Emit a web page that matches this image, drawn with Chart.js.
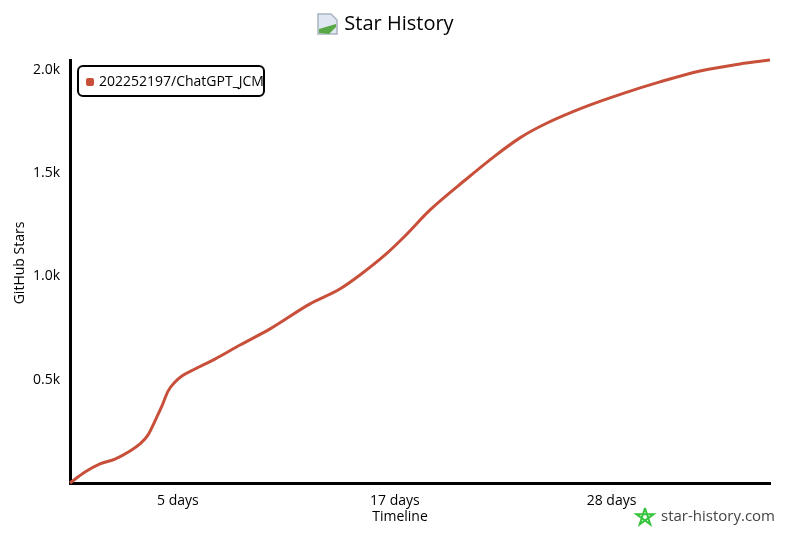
<!DOCTYPE html>
<html>
<head>
<meta charset="utf-8">
<title>Star History</title>
<script src="https://cdn.jsdelivr.net/npm/chart.js@4"></script>
<style>
  html, body { margin: 0; padding: 0; background: #fff; }
  #wrap { position: relative; width: 800px; height: 533px; overflow: hidden; }
  #legend {
    position: absolute; left: 77px; top: 65px; width: 188px; height: 32px;
    border: 2px solid #000; border-radius: 6px; background: #fff; box-sizing: border-box;
    font: 14px "Open Sans", sans-serif; color: #000; line-height: 28px; white-space: nowrap;
  }
  #legend i {
    display: inline-block; width: 8px; height: 8px; border-radius: 2px;
    margin: 0 5px 0 7px; vertical-align: 0;
  }
</style>
</head>
<body>
<div id="wrap">
  <canvas id="chart-stars" width="800" height="533"></canvas>
  <div id="legend"></div>
</div>
<script>
  /* days since first star */
  var days = [0, 0.79, 1.58, 2.37, 3.16, 3.68, 4.1, 4.47, 4.84, 5.16, 5.53, 5.89, 6.58, 7.63, 8.95, 10.53,
    12.63, 14.2, 15.26, 16.58, 17.63, 18.95, 20.8, 22.37, 23.68, 25, 27.1, 29.2, 31.05, 33.16, 35.26, 36.84];
  var stars = [0, 53, 92, 116, 155, 189, 232, 300, 373, 445, 489, 518, 552, 600, 668, 746,
    867, 939, 1007, 1104, 1196, 1322, 1467, 1584, 1671, 1738, 1821, 1889, 1942, 1995, 2029, 2048];
  var seriesName = '202252197/ChatGPT_JCM';
  var xTickValues = [5.68, 17.1, 28.5];
  var xTickLabels = ['5 days', '17 days', '28 days'];
  var yTickValues = [500, 1000, 1500, 2000];
  var yTickLabels = ['0.5k', '1.0k', '1.5k', '2.0k'];

  var FONT = '"Open Sans", sans-serif';
  var LINE_COLOR = '#c8503a';

  /* titles sit centred on the page, not on the plot, so they are drawn here */
  var decorations = {
    id: 'decorations',
    afterDraw: function (chart) {
      var c = chart.ctx;
      c.save();
      c.textAlign = 'center';
      c.textBaseline = 'middle';
      c.fillStyle = '#000';
      c.font = '20px ' + FONT;
      c.fillText('Star History', 399, 24);
      c.font = '14px ' + FONT;
      c.fillText('Timeline', 400, 517);
      c.save();
      c.translate(20, 263);
      c.rotate(-Math.PI / 2);
      c.fillText('GitHub Stars', 0, 0);
      c.restore();

      // page icon
      c.fillStyle = '#dfe8f2';
      c.strokeStyle = '#aab4c0';
      c.lineWidth = 1.5;
      c.beginPath();
      c.moveTo(318, 14); c.lineTo(331, 14); c.lineTo(337, 20); c.lineTo(337, 34); c.lineTo(318, 34);
      c.closePath(); c.fill(); c.stroke();
      c.fillStyle = '#5aa845';
      c.beginPath();
      c.moveTo(319, 33); c.lineTo(319, 29); c.lineTo(336, 24); c.lineTo(336, 27); c.lineTo(329, 34);
      c.closePath(); c.fill();

      // green star outline
      var cx = 645, cy = 517, r = 9, i, a;
      c.strokeStyle = '#35c43c';
      c.lineWidth = 2;
      c.beginPath();
      for (i = 0; i < 6; i++) {
        a = -Math.PI / 2 + i * 4 * Math.PI / 5;
        if (i === 0) c.moveTo(cx + r * Math.cos(a), cy + r * Math.sin(a));
        else c.lineTo(cx + r * Math.cos(a), cy + r * Math.sin(a));
      }
      c.stroke();
      c.fillStyle = '#444';
      c.font = '15px ' + FONT;
      c.textAlign = 'left';
      c.fillText('star-history.com', 661, 517);
      c.restore();
    }
  };

  document.getElementById('legend').innerHTML = '<i style="background:' + LINE_COLOR + '"></i>' + seriesName;

  new Chart(document.getElementById('chart-stars'), {
    type: 'line',
    data: {
      labels: days,
      datasets: [{
        label: seriesName,
        data: days.map(function (d, i) { return { x: d, y: stars[i] }; }),
        borderColor: LINE_COLOR,
        borderWidth: 3,
        pointRadius: 0,
        cubicInterpolationMode: 'monotone',
        clip: false
      }]
    },
    plugins: [decorations],
    options: {
      responsive: false,
      animation: false,
      layout: { padding: { left: 0, right: 30, top: 60, bottom: 0 } },
      plugins: {
        legend: { display: false },
        tooltip: { enabled: false }
      },
      scales: {
        x: {
          type: 'linear',
          min: 0,
          max: 36.84,
          border: { color: '#000', width: 3 },
          grid: { display: false },
          afterBuildTicks: function (axis) {
            axis.ticks = xTickValues.map(function (v) { return { value: v }; });
          },
          afterFit: function (axis) { axis.height = 50; },
          ticks: {
            color: '#000',
            font: { family: FONT, size: 14 },
            padding: 2,
            maxRotation: 0,
            callback: function (v) { return xTickLabels[xTickValues.indexOf(v)]; }
          }
        },
        y: {
          min: 0,
          max: 2048,
          border: { color: '#000', width: 3 },
          grid: { display: false },
          afterBuildTicks: function (axis) {
            axis.ticks = yTickValues.map(function (v) { return { value: v }; });
          },
          afterFit: function (axis) { axis.width = 70; },
          ticks: {
            color: '#000',
            font: { family: FONT, size: 14 },
            padding: 2,
            callback: function (v) { return yTickLabels[yTickValues.indexOf(v)]; }
          }
        }
      }
    }
  });
</script>
</body>
</html>
